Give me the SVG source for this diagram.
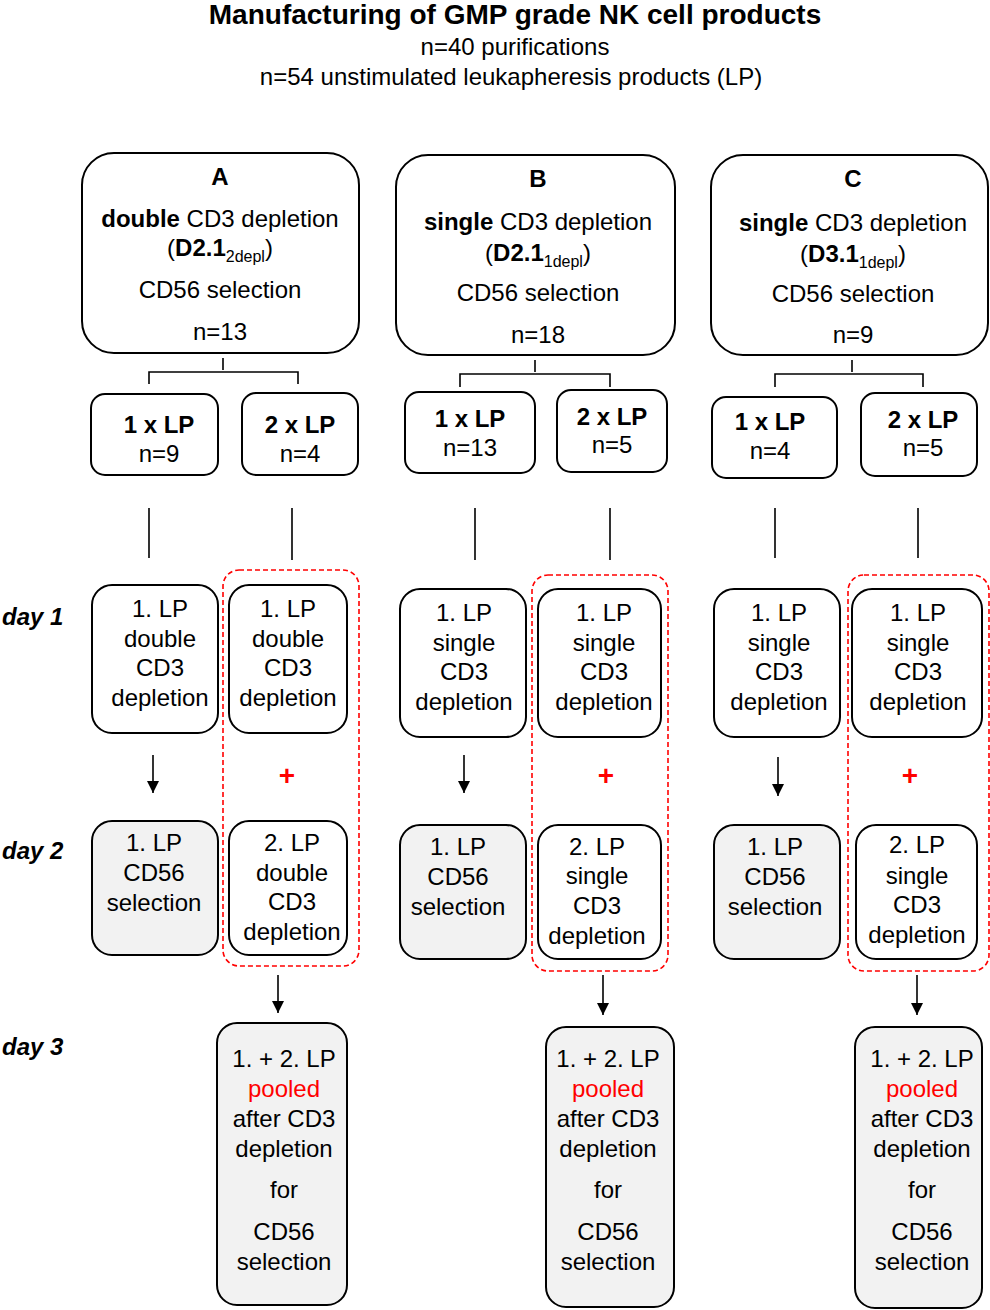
<svg xmlns="http://www.w3.org/2000/svg" width="990" height="1310" viewBox="0 0 990 1310">
<defs>
<style>
text{font-family:"Liberation Sans",Arial,sans-serif;fill:#000;text-anchor:middle;font-size:24px}
.b{font-weight:bold}
.box{fill:#fff;stroke:#000;stroke-width:2}
.gray{fill:#f2f2f2;stroke:#000;stroke-width:2}
.red{fill:none;stroke:#ff0000;stroke-width:1.6;stroke-dasharray:5,3}
.ln{fill:none;stroke:#000;stroke-width:1.6}
.day{font-weight:bold;font-style:italic;text-anchor:start}
.plus{fill:#ff0000;font-weight:bold;font-size:28px}
.sub{font-size:16px}
</style>
<marker id="ah" markerWidth="12" markerHeight="14" refX="12" refY="7" orient="auto" markerUnits="userSpaceOnUse">
<path d="M0,1 L12,7 L0,13 z" fill="#000"/>
</marker>
</defs>
<rect width="990" height="1310" fill="#fff"/>

<g id="title">
<text x="515" y="24" class="b" style="font-size:28px">Manufacturing of GMP grade NK cell products</text>
<text x="515" y="55">n=40 purifications</text>
<text x="511" y="85">n=54 unstimulated leukapheresis products (LP)</text>
</g>

<g id="days">
<text x="2" y="625" class="day">day 1</text>
<text x="2" y="859" class="day">day 2</text>
<text x="2" y="1055" class="day">day 3</text>
</g>

<!-- Group A -->
<g id="boxA">
<rect x="82" y="153" width="277" height="200" rx="32" class="box"/>
<text x="220" y="185" class="b">A</text>
<text x="220" y="227"><tspan class="b">double</tspan> CD3 depletion</text>
<text x="220" y="256">(<tspan class="b">D2.1</tspan><tspan class="sub" dy="6">2depl</tspan><tspan dy="-6">)</tspan></text>
<text x="220" y="298">CD56 selection</text>
<text x="220" y="340">n=13</text>
</g>
<g id="A_1xLP">
<rect x="91" y="394" width="127" height="81" rx="14" class="box"/>
<text x="159" y="433" class="b">1 x LP</text>
<text x="159" y="462">n=9</text>
</g>
<g id="A_2xLP">
<rect x="242" y="393" width="116" height="82" rx="14" class="box"/>
<text x="300" y="433" class="b">2 x LP</text>
<text x="300" y="462">n=4</text>
</g>
<g id="A_d1_1">
<rect x="92" y="585" width="126" height="148" rx="20" class="box"/>
<text x="160" y="617">1. LP</text>
<text x="160" y="647">double</text>
<text x="160" y="676">CD3</text>
<text x="160" y="706">depletion</text>
</g>
<g id="A_d1_2">
<rect x="229" y="585" width="118" height="148" rx="20" class="box"/>
<text x="288" y="617">1. LP</text>
<text x="288" y="647">double</text>
<text x="288" y="676">CD3</text>
<text x="288" y="706">depletion</text>
</g>
<g id="A_d2_1">
<rect x="92" y="821" width="126" height="134" rx="20" class="gray"/>
<text x="154" y="851">1. LP</text>
<text x="154" y="881">CD56</text>
<text x="154" y="911">selection</text>
</g>
<g id="A_d2_2">
<rect x="229" y="821" width="118" height="134" rx="20" class="box"/>
<text x="292" y="851">2. LP</text>
<text x="292" y="881">double</text>
<text x="292" y="910">CD3</text>
<text x="292" y="940">depletion</text>
</g>
<g id="A_pool">
<rect x="223" y="570" width="136" height="396" rx="16" class="red"/>
<text x="287" y="785" class="plus">+</text>
</g>
<g id="A_d3">
<rect x="217" y="1023" width="130" height="282" rx="20" class="gray"/>
<text x="284" y="1067">1. + 2. LP</text>
<text x="284" y="1097" style="fill:#ff0000">pooled</text>
<text x="284" y="1127">after CD3</text>
<text x="284" y="1157">depletion</text>
<text x="284" y="1198">for</text>
<text x="284" y="1240">CD56</text>
<text x="284" y="1270">selection</text>
</g>

<!-- Group B -->
<g id="boxB">
<rect x="396" y="155" width="279" height="200" rx="32" class="box"/>
<text x="538" y="187" class="b">B</text>
<text x="538" y="230"><tspan class="b">single</tspan> CD3 depletion</text>
<text x="538" y="261">(<tspan class="b">D2.1</tspan><tspan class="sub" dy="6">1depl</tspan><tspan dy="-6">)</tspan></text>
<text x="538" y="301">CD56 selection</text>
<text x="538" y="343">n=18</text>
</g>
<g id="B_1xLP">
<rect x="405" y="392" width="130" height="81" rx="14" class="box"/>
<text x="470" y="427" class="b">1 x LP</text>
<text x="470" y="456">n=13</text>
</g>
<g id="B_2xLP">
<rect x="557" y="390" width="110" height="82" rx="14" class="box"/>
<text x="612" y="425" class="b">2 x LP</text>
<text x="612" y="453">n=5</text>
</g>
<g id="B_d1_1">
<rect x="400" y="589" width="126" height="148" rx="20" class="box"/>
<text x="464" y="621">1. LP</text>
<text x="464" y="651">single</text>
<text x="464" y="680">CD3</text>
<text x="464" y="710">depletion</text>
</g>
<g id="B_d1_2">
<rect x="538" y="589" width="123" height="148" rx="20" class="box"/>
<text x="604" y="621">1. LP</text>
<text x="604" y="651">single</text>
<text x="604" y="680">CD3</text>
<text x="604" y="710">depletion</text>
</g>
<g id="B_d2_1">
<rect x="400" y="825" width="126" height="134" rx="20" class="gray"/>
<text x="458" y="855">1. LP</text>
<text x="458" y="885">CD56</text>
<text x="458" y="915">selection</text>
</g>
<g id="B_d2_2">
<rect x="538" y="825" width="123" height="134" rx="20" class="box"/>
<text x="597" y="855">2. LP</text>
<text x="597" y="884">single</text>
<text x="597" y="914">CD3</text>
<text x="597" y="944">depletion</text>
</g>
<g id="B_pool">
<rect x="532" y="575" width="136" height="396" rx="16" class="red"/>
<text x="606" y="785" class="plus">+</text>
</g>
<g id="B_d3">
<rect x="546" y="1027" width="128" height="280" rx="20" class="gray"/>
<text x="608" y="1067">1. + 2. LP</text>
<text x="608" y="1097" style="fill:#ff0000">pooled</text>
<text x="608" y="1127">after CD3</text>
<text x="608" y="1157">depletion</text>
<text x="608" y="1198">for</text>
<text x="608" y="1240">CD56</text>
<text x="608" y="1270">selection</text>
</g>

<!-- Group C -->
<g id="boxC">
<rect x="711" y="155" width="277" height="200" rx="32" class="box"/>
<text x="853" y="187" class="b">C</text>
<text x="853" y="231"><tspan class="b">single</tspan> CD3 depletion</text>
<text x="853" y="262">(<tspan class="b">D3.1</tspan><tspan class="sub" dy="6">1depl</tspan><tspan dy="-6">)</tspan></text>
<text x="853" y="302">CD56 selection</text>
<text x="853" y="343">n=9</text>
</g>
<g id="C_1xLP">
<rect x="712" y="397" width="125" height="81" rx="14" class="box"/>
<text x="770" y="430" class="b">1 x LP</text>
<text x="770" y="459">n=4</text>
</g>
<g id="C_2xLP">
<rect x="861" y="393" width="116" height="83" rx="14" class="box"/>
<text x="923" y="428" class="b">2 x LP</text>
<text x="923" y="456">n=5</text>
</g>
<g id="C_d1_1">
<rect x="714" y="589" width="126" height="148" rx="20" class="box"/>
<text x="779" y="621">1. LP</text>
<text x="779" y="651">single</text>
<text x="779" y="680">CD3</text>
<text x="779" y="710">depletion</text>
</g>
<g id="C_d1_2">
<rect x="852" y="589" width="130" height="148" rx="20" class="box"/>
<text x="918" y="621">1. LP</text>
<text x="918" y="651">single</text>
<text x="918" y="680">CD3</text>
<text x="918" y="710">depletion</text>
</g>
<g id="C_d2_1">
<rect x="714" y="825" width="126" height="134" rx="20" class="gray"/>
<text x="775" y="855">1. LP</text>
<text x="775" y="885">CD56</text>
<text x="775" y="915">selection</text>
</g>
<g id="C_d2_2">
<rect x="856" y="825" width="121" height="134" rx="20" class="box"/>
<text x="917" y="853">2. LP</text>
<text x="917" y="884">single</text>
<text x="917" y="913">CD3</text>
<text x="917" y="943">depletion</text>
</g>
<g id="C_pool">
<rect x="848" y="575" width="141" height="396" rx="16" class="red"/>
<text x="910" y="785" class="plus">+</text>
</g>
<g id="C_d3">
<rect x="855" y="1027" width="127" height="281" rx="20" class="gray"/>
<text x="922" y="1067">1. + 2. LP</text>
<text x="922" y="1097" style="fill:#ff0000">pooled</text>
<text x="922" y="1127">after CD3</text>
<text x="922" y="1157">depletion</text>
<text x="922" y="1198">for</text>
<text x="922" y="1240">CD56</text>
<text x="922" y="1270">selection</text>
</g>

<g id="connectors">
<!-- brackets -->
<path class="ln" d="M223,358 V370 M149,384 V372 H298 V384"/>
<path class="ln" d="M535,360 V372 M460,387 V374 H610 V387"/>
<path class="ln" d="M852,360 V372 M775,387 V374 H923 V387"/>
<!-- vertical lines -->
<path class="ln" d="M149,508 V558 M292,508 V560 M475,508 V560 M610,508 V560 M775,508 V558 M918,508 V558"/>
<!-- arrows -->
<line x1="153" y1="755" x2="153" y2="793" class="ln" marker-end="url(#ah)"/>
<line x1="464" y1="755" x2="464" y2="793" class="ln" marker-end="url(#ah)"/>
<line x1="778" y1="757" x2="778" y2="796" class="ln" marker-end="url(#ah)"/>
<line x1="278" y1="975" x2="278" y2="1013" class="ln" marker-end="url(#ah)"/>
<line x1="603" y1="975" x2="603" y2="1015" class="ln" marker-end="url(#ah)"/>
<line x1="917" y1="975" x2="917" y2="1015" class="ln" marker-end="url(#ah)"/>
</g>
</svg>
